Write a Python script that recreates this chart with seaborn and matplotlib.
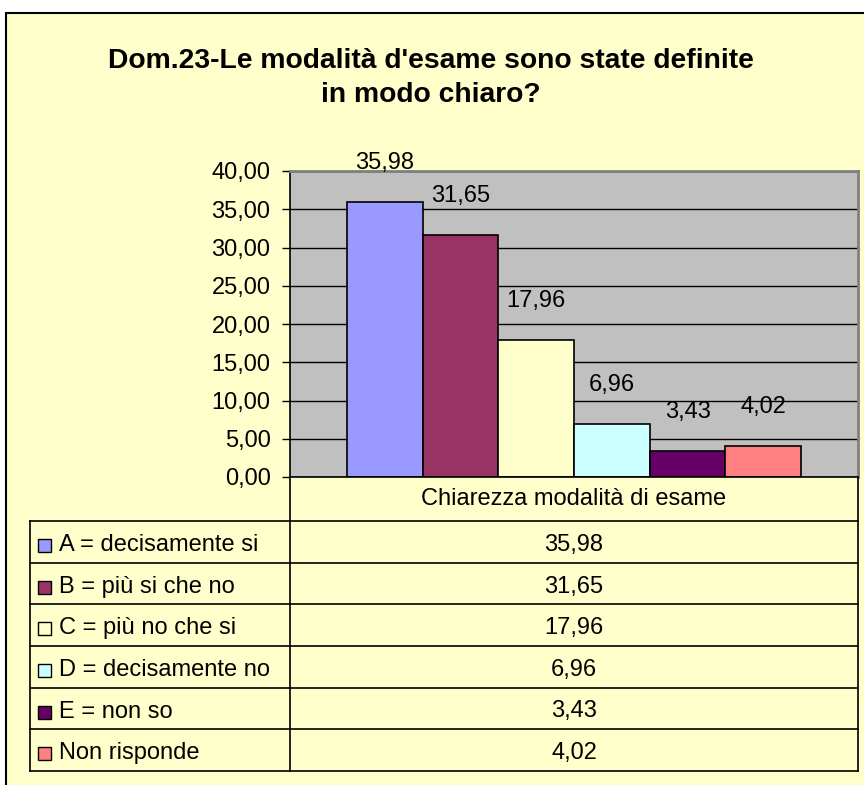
import matplotlib
matplotlib.use("Agg")
import matplotlib.pyplot as plt
import pandas as pd
import seaborn as sns
from matplotlib.patches import Rectangle
from matplotlib.lines import Line2D

# data
gruppo = "Chiarezza modalità di esame"
categorie = ["A = decisamente si", "B = più si che no", "C = più no che si",
             "D = decisamente no", "E = non so", "Non risponde"]
valori = [35.98, 31.65, 17.96, 6.96, 3.43, 4.02]
colori = ["#9999FF", "#993366", "#FFFFCC", "#CCFFFF", "#660066", "#FF8080"]
titolo = "Dom.23-Le modalità d'esame sono state definite\nin modo chiaro?"

df = pd.DataFrame({"gruppo": gruppo, "categoria": categorie, "valore": valori})

W, H = 864, 785
FS = 17
plt.rcParams['font.family'] = ['Liberation Sans', 'DejaVu Sans']
fig = plt.figure(figsize=(W / 100, H / 100), dpi=100, facecolor="white")


def px(x, y):
    return x / W, 1 - y / H


def fmt(v):
    return f"{v:.2f}".replace(".", ",")


# yellow chart area
fig.add_artist(Rectangle(px(6, 900), (W + 20) / W, (900 - 13) / H, transform=fig.transFigure,
                         facecolor="#FFFFCC", edgecolor="black", linewidth=1.5, zorder=0))

fig.text(*px(431, 78), titolo, ha="center", va="center", fontsize=20.3,
         fontweight="bold", linespacing=1.38)

# plot area
left, right, top, bottom = 290, 858, 171, 477
ax = fig.add_axes([left / W, 1 - bottom / H, (right - left) / W, (bottom - top) / H])
ax.set_facecolor("#C0C0C0")
sns.barplot(data=df, x="gruppo", y="valore", hue="categoria", palette=colori,
            saturation=1, edgecolor="black", linewidth=1.2, legend=False, ax=ax)
ax.set_ylim(0, 40)
ax.set_yticks(range(0, 41, 5))
ax.set_yticklabels([fmt(t) for t in range(0, 41, 5)], fontsize=FS)
ax.yaxis.grid(True, color="black", linewidth=1)
ax.set_axisbelow(True)
ax.tick_params(axis="y", direction="out", length=6, width=1, pad=8)
ax.tick_params(axis="x", bottom=False, labelbottom=False)
ax.set_xlabel("")
ax.set_ylabel("")
for s in ["top", "right"]:
    ax.spines[s].set_color("#808080")
    ax.spines[s].set_linewidth(2)
for s in ["left", "bottom"]:
    ax.spines[s].set_color("black")
    ax.spines[s].set_linewidth(1.2)

for bar, v in zip(ax.patches, valori):
    ax.annotate(fmt(v), (bar.get_x() + bar.get_width() / 2, bar.get_height()),
                xytext=(0, 28), textcoords="offset points", ha="center", va="center",
                fontsize=FS)

# data table under the chart
t_left, row0, row_h = 30, 521, (771 - 521) / len(categorie)
mid_x = (left + right) / 2


def hline(x0, x1, y):
    fig.add_artist(Line2D([x0 / W, x1 / W], [1 - y / H, 1 - y / H], transform=fig.transFigure,
                          color="black", linewidth=1.2))


def vline(x, y0, y1):
    fig.add_artist(Line2D([x / W, x / W], [1 - y0 / H, 1 - y1 / H], transform=fig.transFigure,
                          color="black", linewidth=1.2))


fig.text(*px(mid_x, (bottom + row0) / 2), gruppo, ha="center", va="center", fontsize=FS)
vline(left, bottom, 771)
vline(right, bottom, 771)
vline(t_left, row0, 771)
for i in range(len(categorie) + 1):
    hline(t_left, right, row0 + i * row_h)

for i, (cat, v, c) in enumerate(zip(categorie, valori, colori)):
    yc = row0 + (i + 0.5) * row_h + 3
    fig.add_artist(Rectangle(px(38, yc + 7), 13 / W, 13 / H, transform=fig.transFigure,
                             facecolor=c, edgecolor="black", linewidth=1))
    fig.text(*px(59, yc), cat, ha="left", va="center", fontsize=FS)
    fig.text(*px(mid_x, yc), fmt(v), ha="center", va="center", fontsize=FS)

fig.savefig("out.png", dpi=100, facecolor=fig.get_facecolor())
